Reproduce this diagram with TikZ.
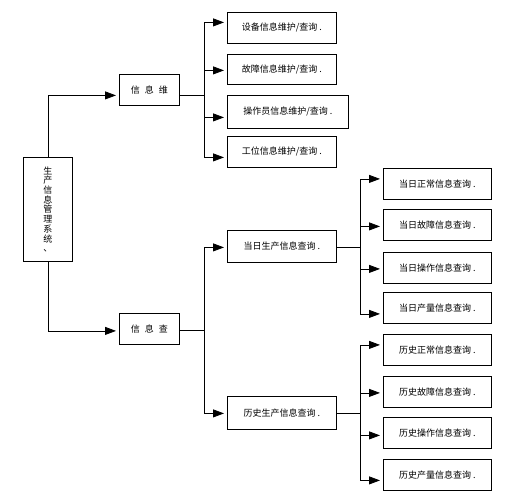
\documentclass[tikz,border=0pt]{standalone}
\usepackage{fontspec}
\setmainfont{Noto Sans CJK SC}
\usetikzlibrary{arrows.meta,calc}
\begin{document}
\begin{tikzpicture}[x=1pt,y=-1pt,
  box/.style={draw, line width=0.8pt, inner sep=0pt, anchor=north west,
    font=\fontsize{9}{10.6}\selectfont, align=center},
  link/.style={line width=0.8pt},
  arr/.style={link, -{Triangle[length=11pt,width=8pt]}, shorten >=3pt}]
\useasboundingbox (0,0) rectangle (521,499);

% root
\node[box, minimum width=49pt, minimum height=104pt,
  font=\fontsize{9}{9.7}\selectfont] (root) at (23,157)
  {生\\产\\信\\息\\管\\理\\系\\统\\、};

% level 1
\node[box, minimum width=60pt, minimum height=31pt] (m1) at (119,74) {信\hspace{5pt}息\hspace{5pt}维};
\node[box, minimum width=60pt, minimum height=31pt] (m2) at (119,313) {信\hspace{5pt}息\hspace{5pt}查};

% group A
\node[box, minimum width=109pt, minimum height=31pt] (a1) at (227,12) {设备信息维护/查询\ .};
\node[box, minimum width=109pt, minimum height=30pt] (a2) at (227,54) {故障信息维护/查询\ .};
\node[box, minimum width=121pt, minimum height=33pt] (a3) at (227,95) {操作员信息维护/查询\ .};
\node[box, minimum width=109pt, minimum height=31pt] (a4) at (227,136) {工位信息维护/查询\ .};

% group B
\node[box, minimum width=109pt, minimum height=32pt] (b1) at (227,230) {当日生产信息查询\ .};
\node[box, minimum width=109pt, minimum height=33pt] (b2) at (227,396) {历史生产信息查询\ .};

% group C
\node[box, minimum width=108pt, minimum height=31pt] (c1) at (383,168) {当日正常信息查询\ .};
\node[box, minimum width=108pt, minimum height=31pt] (c2) at (383,209) {当日故障信息查询\ .};
\node[box, minimum width=108pt, minimum height=31pt] (c3) at (383,252) {当日操作信息查询\ .};
\node[box, minimum width=108pt, minimum height=31pt] (c4) at (383,292) {当日产量信息查询\ .};
\node[box, minimum width=108pt, minimum height=31pt] (c5) at (383,334) {历史正常信息查询\ .};
\node[box, minimum width=108pt, minimum height=31pt] (c6) at (383,376) {历史故障信息查询\ .};
\node[box, minimum width=108pt, minimum height=31pt] (c7) at (383,417) {历史操作信息查询\ .};
\node[box, minimum width=108pt, minimum height=31pt] (c8) at (383,459) {历史产量信息查询\ .};

% junctions
\coordinate (jA) at (204,95);
\coordinate (jB) at (204,330);
\coordinate (jC) at (360,247);
\coordinate (jD) at (360,413);

% root to level 1
\draw[arr] (root.north) |- ($(m1.west)+(0,5.5)$);
\draw[arr] (root.south) |- ($(m2.west)+(0,2)$);

% level 1 outputs
\draw[link] (m1.east |- jA) -- (jA);
\draw[link] (m2.east |- jB) -- (jB);
\draw[link] (b1.east |- jC) -- (jC);
\draw[link] (b2.east |- jD) -- (jD);

% group A arrows
\draw[arr] (jA) |- ($(a1.west)+(0,-5.5)$);
\draw[arr] (jA) |- ($(a2.west)+(0,1)$);
\draw[arr] (jA) |- ($(a3.west)+(0,5.5)$);
\draw[arr] (jA) |- ($(a4.west)+(0,5.5)$);

% group B arrows
\draw[arr] (jB) |- ($(b1.west)+(0,1)$);
\draw[arr] (jB) |- ($(b2.west)+(0,0.5)$);

% group C arrows
\draw[arr] (jC) |- ($(c1.west)+(0,-5)$);
\draw[arr] (jC) |- ($(c2.west)+(0,1.5)$);
\draw[arr] (jC) |- ($(c3.west)+(0,1)$);
\draw[arr] (jC) |- ($(c4.west)+(0,6)$);
\draw[arr] (jD) |- ($(c5.west)+(0,-5)$);
\draw[arr] (jD) |- ($(c6.west)+(0,1)$);
\draw[arr] (jD) |- ($(c7.west)+(0,2.5)$);
\draw[arr] (jD) |- ($(c8.west)+(0,5.5)$);
\end{tikzpicture}
\end{document}
